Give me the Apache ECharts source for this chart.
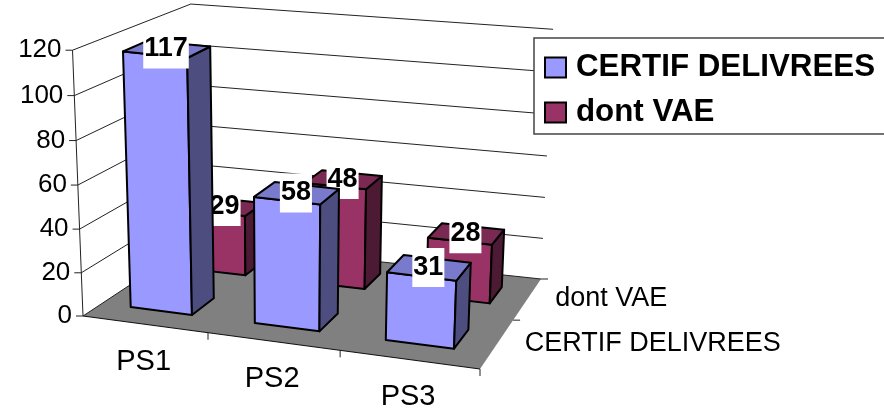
<!DOCTYPE html>
<html>
<head>
<meta charset="utf-8">
<style>html,body{margin:0;padding:0;background:#fff;overflow:hidden}#c{width:884px;height:410px}</style>
<script src="https://cdn.jsdelivr.net/npm/echarts@6/dist/echarts.min.js"></script>
</head>
<body>
<div id="c"></div>
<script>
const categories = ['PS1', 'PS2', 'PS3'];
const seriesNames = ['CERTIF DELIVREES', 'dont VAE'];
const certifValues = [117, 58, 31];
const vaeValues = [29, 48, 28];
const tickValues = [0, 20, 40, 60, 80, 100, 120];
const yMax = 120;

// Projection of the chart's box.
const FLOOR = [[83, 316], [480, 369], [541, 279], [195, 242]];
const HEIGHTS = [266, 273, 250, 238];   // pixel height of the box at the floor corners
const VP = [288, 5518];                 // vanishing point of the verticals
const WARP = 0.032;
const BAR_W = 0.5, BAR_D = 0.2, ROW_V = [0.15, 0.65], ROW_U = [-0.012, 0];
const FONT = '"Liberation Sans", Arial, sans-serif';

function quad(q) {
  const [[x0, y0], [x1, y1], [x2, y2], [x3, y3]] = q;
  const dx1 = x1 - x2, dx2 = x3 - x2, sx = x0 - x1 + x2 - x3;
  const dy1 = y1 - y2, dy2 = y3 - y2, sy = y0 - y1 + y2 - y3;
  const det = dx1 * dy2 - dx2 * dy1;
  const g = (sx * dy2 - dx2 * sy) / det, h = (dx1 * sy - sx * dy1) / det;
  const a = x1 - x0 + g * x1, b = x3 - x0 + h * x3, d = y1 - y0 + g * y1, e = y3 - y0 + h * y3;
  return (s, t) => {
    const w = g * s + h * t + 1;
    return [(a * s + b * t + x0) / w, (d * s + e * t + y0) / w];
  };
}
const hFloor = quad(FLOOR);
// u: 0..3 along categories, v: 0..1 in depth, f: 0..1 of value axis
function P(u, v, f) {
  const s0 = u / 3, s = s0 * (1 + WARP) / (1 + WARP * s0);
  const a = hFloor(s, v);
  const H = (HEIGHTS[0] * (1 - s) + HEIGHTS[1] * s) * (1 - v) + (HEIGHTS[3] * (1 - s) + HEIGHTS[2] * s) * v;
  const dx = a[0] - VP[0], dy = a[1] - VP[1], len = Math.hypot(dx, dy);
  const k = H * f / (1 + 0.03 * (1 - f));
  return [a[0] + dx / len * k, a[1] + dy / len * k];
}
function poly(points, fill, stroke, width) {
  return { type: 'polygon', shape: { points }, style: { fill, stroke: stroke || 'none', lineWidth: width || 0, lineJoin: 'round' } };
}
function line(a, b, color, width) {
  return { type: 'line', shape: { x1: a[0], y1: a[1], x2: b[0], y2: b[1] }, style: { stroke: color, lineWidth: width, fill: 'none' } };
}
function text(x, y, str, size, weight, align, extra) {
  return { type: 'text', style: Object.assign({ x, y, text: str, fill: '#000', font: weight + ' ' + size + 'px ' + FONT, align, verticalAlign: 'middle' }, extra || {}) };
}
function fracOf(api, params, val) {
  const cs = params.coordSys;
  return (cs.y + cs.height - api.coord([0, val])[1]) / cs.height;
}

function renderTick(params, api) {
  const val = api.value(1), f = fracOf(api, params, val);
  const a = P(0, 0, f), b = P(0, 1, f), c = P(3, 1, f);
  const kids = [];
  if (val === 0) {
    kids.push(poly([P(0, 0, 0), P(3, 0, 0), P(3, 1, 0), P(0, 1, 0)], '#808080'));
    kids.push(line(P(0, 0, 0), P(0, 0, 1), '#222', 1));
    kids.push(line(P(0, 0, 0), P(3, 0, 0), '#111', 1.2));
  }
  kids.push(line(a, b, '#222', 1), line(b, c, '#222', 1));
  kids.push(line([a[0] - 7, a[1]], a, '#222', 1));
  kids.push(text(a[0] - 11, a[1], String(val), 26, 'normal', 'right'));
  return { type: 'group', children: kids };
}
function renderCat(params, api) {
  const i = api.value(0);
  const t = P(i + 1, 0, 0), m = P(i + 0.5, 0, 0);
  return { type: 'group', children: [
    line(t, [t[0], t[1] + 7], '#222', 1),
    text(m[0] - 1, m[1] + 37.5, categories[i], 29, 'normal', 'center')
  ] };
}
function renderDepth(params, api) {
  const i = api.value(0);
  const t = P(3, (i + 1) / 2, 0), m = P(3, (i + 0.5) / 2, 0);
  return { type: 'group', children: [
    line(t, [t[0] + 7, t[1]], '#222', 1),
    text(m[0] + 27.5, m[1], seriesNames[i], 27, 'normal', 'left')
  ] };
}
function barRenderer(row, front, side, topc) {
  return function (params, api) {
    const cs = params.coordSys, val = api.value(1), bw = api.size([1, 0])[0];
    const uc = (api.coord([api.value(0), 0])[0] - cs.x) / bw + ROW_U[row];
    const f = fracOf(api, params, val);
    const u0 = uc - BAR_W / 2, u1 = uc + BAR_W / 2, v0 = ROW_V[row], v1 = v0 + BAR_D;
    const lw = 2;
    const tc = P(uc, (v0 + v1) / 2, f);
    return { type: 'group', children: [
      poly([P(u0, v0, 0), P(u1, v0, 0), P(u1, v0, f), P(u0, v0, f)], front, '#000', lw),
      poly([P(u1, v0, 0), P(u1, v1, 0), P(u1, v1, f), P(u1, v0, f)], side, '#000', lw),
      poly([P(u0, v0, f), P(u1, v0, f), P(u1, v1, f), P(u0, v1, f)], topc, '#000', lw),
      text(tc[0] - 1, tc[1], String(val), 27, 'bold', 'center', { backgroundColor: '#fff', padding: [0, 1, 12, 1] })
    ] };
  };
}

const chart = echarts.init(document.getElementById('c'), null, { renderer: 'canvas' });
chart.setOption({
  animation: false,
  backgroundColor: '#fff',
  grid: { left: 80, right: 400, top: 50, bottom: 90 },
  xAxis: { type: 'category', data: categories, show: false },
  yAxis: { type: 'value', min: 0, max: yMax, interval: 20, show: false },
  legend: {
    data: seriesNames.map((name, i) => ({ name, icon: 'rect' })),
    orient: 'vertical', left: 534, top: 38, padding: [14, 60, 6, 10],
    itemWidth: 21, itemHeight: 20, itemGap: 14, selectedMode: false,
    backgroundColor: '#fff', borderColor: '#444', borderWidth: 1.5,
    itemStyle: { borderColor: '#000', borderWidth: 2 },
    textStyle: { fontFamily: FONT, fontWeight: 'bold', fontSize: 31.3, color: '#000', padding: [0, 0, 0, 5] }
  },
  series: [
    { type: 'custom', name: 'axis', coordinateSystem: 'cartesian2d', silent: true, clip: false,
      renderItem: renderTick, data: tickValues.map(v => [0, v]) },
    { type: 'custom', name: 'cat', coordinateSystem: 'cartesian2d', silent: true, clip: false,
      renderItem: renderCat, data: categories.map((c, i) => [i, 0]) },
    { type: 'custom', name: 'depth', coordinateSystem: 'cartesian2d', silent: true, clip: false,
      renderItem: renderDepth, data: seriesNames.map((c, i) => [i, 0]) },
    { type: 'custom', name: seriesNames[1], coordinateSystem: 'cartesian2d', clip: false,
      itemStyle: { color: '#993366' },
      renderItem: barRenderer(1, '#993366', '#4D1A33', '#7A2952'),
      data: vaeValues.map((v, i) => [i, v]) },
    { type: 'custom', name: seriesNames[0], coordinateSystem: 'cartesian2d', clip: false,
      itemStyle: { color: '#9999FF' },
      renderItem: barRenderer(0, '#9999FF', '#4D4D80', '#7A7ACC'),
      data: certifValues.map((v, i) => [i, v]) }
  ]
});
</script>
</body>
</html>
